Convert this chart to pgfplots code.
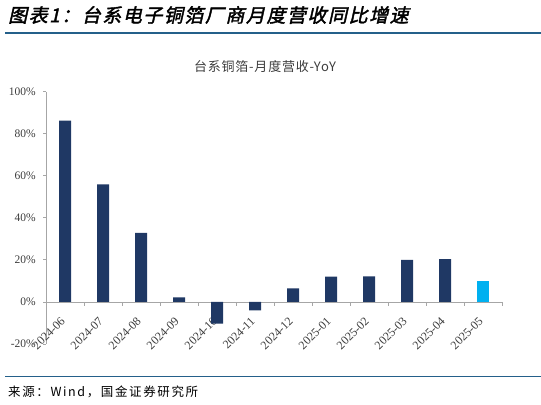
\documentclass[border=0pt]{standalone}
\usepackage{fontspec}
\setmainfont{Liberation Serif}
\newfontfamily\cjkspaced[LetterSpace=6]{Noto Sans CJK SC}
\newfontfamily\cjksource[LetterSpace=13]{Noto Sans CJK SC}
\newfontfamily\cjktitle[FakeSlant=0.22,FakeBold=2,LetterSpace=8]{Noto Sans CJK SC}
\usepackage{pgfplots}
\pgfplotsset{compat=1.18}

\definecolor{navy}{RGB}{31,56,100}
\definecolor{lightblue}{RGB}{0,176,240}
\definecolor{axisgray}{RGB}{166,166,166}
\definecolor{labelgray}{RGB}{60,60,60}
\definecolor{rulecol}{RGB}{36,96,138}

\begin{document}
\begin{tikzpicture}
% heading and rules
\node[anchor=west, inner sep=0pt] at (8bp,390bp)
  {\fontsize{19bp}{19bp}\cjktitle 图表1：台系电子铜箔厂商月度营收同比增速};
\draw[rulecol, line width=1.8bp] (5bp,372bp) -- (541bp,372bp);
\node[inner sep=0pt, text=labelgray] at (265bp,338bp)
  {\fontsize{13bp}{13bp}\cjkspaced 台系铜箔-月度营收-YoY};

\begin{axis}[
  at={(46bp,61bp)}, anchor=south west,
  scale only axis, width=456bp, height=252.3bp,
  xmin=-0.5, xmax=11.5, ymin=-20, ymax=100,
  axis x line*=middle, axis y line*=left,
  axis line style={draw=axisgray, line width=0.8bp},
  xtick={0,...,11},
  xticklabels={2024-06,2024-07,2024-08,2024-09,2024-10,2024-11,2024-12,2025-01,2025-02,2025-03,2025-04,2025-05},
  major x tick style={draw=none},
  minor xtick={-0.5,0.5,...,11.5},
  ytick={-20,0,...,100},
  tick style={draw=axisgray, line width=0.8bp},
  tick align=outside, major tick length=3bp, minor tick length=4bp,
  yticklabel={\pgfmathprintnumber[assume math mode=true]{\tick}\%},
  yticklabel style={font=\fontsize{11.5bp}{11.5bp}\selectfont, text=labelgray, inner sep=0pt, xshift=-7bp},
  xticklabel style={font=\fontsize{12bp}{12bp}\selectfont, text=labelgray, yshift=-14bp, xshift=-2bp, rotate=45, anchor=east, inner sep=0pt},
  clip=false,
]
\addplot[ybar, bar width=12bp, bar shift=0pt, fill=navy, draw=none]
  coordinates {(0,86.2) (1,55.9) (2,32.8) (3,2.2) (4,-10.3) (5,-4.0)
               (6,6.5) (7,12.0) (8,12.2) (9,20.0) (10,20.4)};
\addplot[ybar, bar width=12bp, bar shift=0pt, fill=lightblue, draw=none]
  coordinates {(11,10.0)};
\end{axis}

% source line
\draw[rulecol, line width=1bp] (5bp,28bp) -- (541bp,28bp);
\node[anchor=west, inner sep=0pt] at (8bp,13bp)
  {\fontsize{12.5bp}{12.5bp}\cjksource 来源：Wind，国金证券研究所};

\pgfresetboundingbox
\path (0,0) rectangle (541bp,405bp);
\end{tikzpicture}
\end{document}
